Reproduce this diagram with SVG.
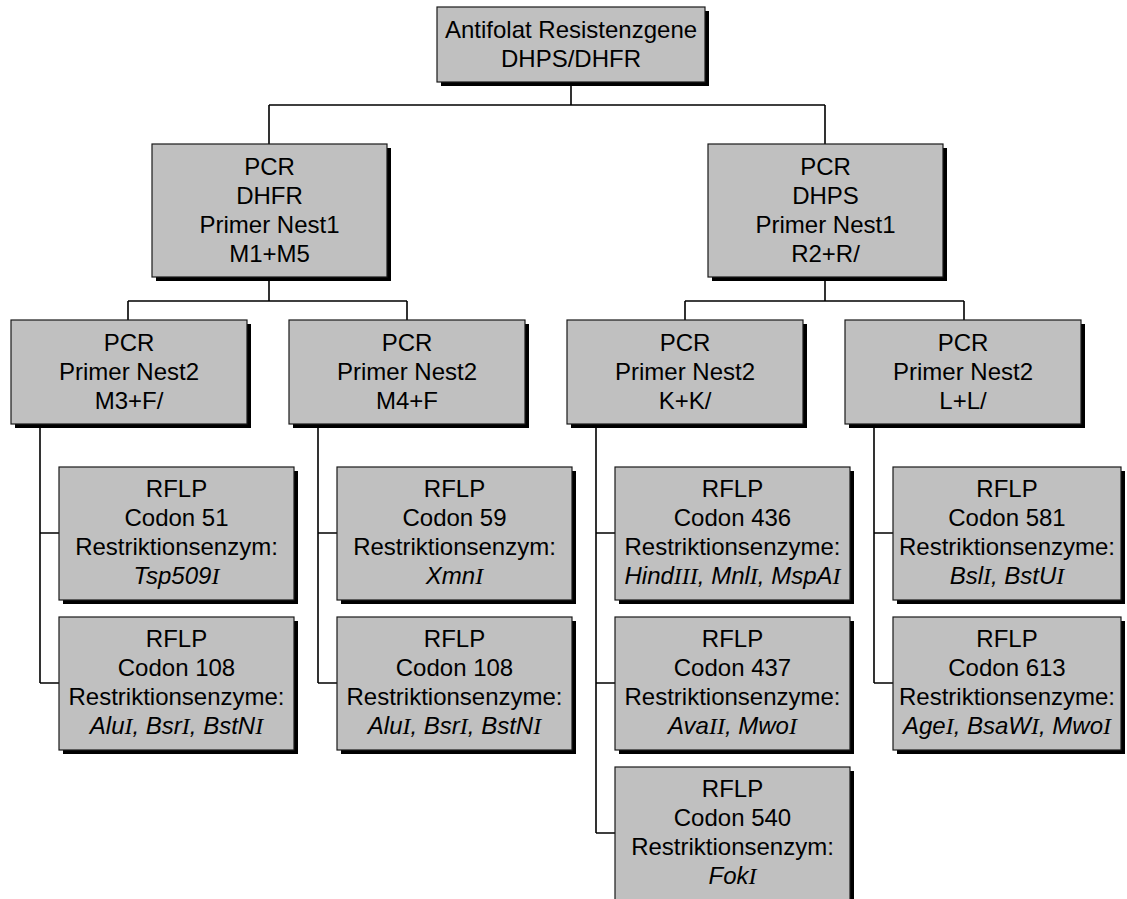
<svg xmlns="http://www.w3.org/2000/svg" width="1127" height="899" viewBox="0 0 1127 899">
<style>
.shadow{fill:#000}
.box{fill:#c0c0c0;stroke:#1a1a1a;stroke-width:1.2}
.t{font-family:"Liberation Sans",Arial,sans-serif;font-size:24px;fill:#000;text-anchor:middle}
.i{font-style:italic}
.r{font-family:"Liberation Serif","Times New Roman",serif;font-style:italic}
.conn{fill:none;stroke:#000;stroke-width:1.6}
</style>
<rect width="1127" height="899" fill="#fff"/>
<g id="connectors" class="conn">
<path d="M571 82V105M269 105H825M269 105V144M825 105V144"/>
<path d="M269 277V301M128 301H407M128 301V320M407 301V320"/>
<path d="M825 277V301M685 301H964M685 301V320M964 301V320"/>
<path d="M40 424V683M40 533H59M40 683H59"/>
<path d="M318 424V683M318 533H337M318 683H337"/>
<path d="M596 424V833M596 533H615M596 683H615M596 833H615"/>
<path d="M874 424V683M874 533H893M874 683H893"/>
</g>
<g id="root">
<rect class="shadow" x="441" y="11" width="268" height="75"/>
<rect class="box" x="437" y="7" width="268" height="75"/>
<text class="t" x="571" y="38">Antifolat Resistenzgene</text>
<text class="t" x="571" y="67">DHPS/DHFR</text>
</g>
<g id="pcr-dhfr">
<rect class="shadow" x="156" y="148" width="235" height="133"/>
<rect class="box" x="152" y="144" width="235" height="133"/>
<text class="t" x="269.5" y="175">PCR</text>
<text class="t" x="269.5" y="204">DHFR</text>
<text class="t" x="269.5" y="233">Primer Nest1</text>
<text class="t" x="269.5" y="262">M1+M5</text>
</g>
<g id="pcr-dhps">
<rect class="shadow" x="712" y="148" width="235" height="133"/>
<rect class="box" x="708" y="144" width="235" height="133"/>
<text class="t" x="825.5" y="175">PCR</text>
<text class="t" x="825.5" y="204">DHPS</text>
<text class="t" x="825.5" y="233">Primer Nest1</text>
<text class="t" x="825.5" y="262">R2+R/</text>
</g>
<g id="nest2-m3">
<rect class="shadow" x="15" y="324" width="236" height="104"/>
<rect class="box" x="11" y="320" width="236" height="104"/>
<text class="t" x="129" y="351">PCR</text>
<text class="t" x="129" y="380">Primer Nest2</text>
<text class="t" x="129" y="409">M3+F/</text>
</g>
<g id="nest2-m4">
<rect class="shadow" x="293" y="324" width="236" height="104"/>
<rect class="box" x="289" y="320" width="236" height="104"/>
<text class="t" x="407" y="351">PCR</text>
<text class="t" x="407" y="380">Primer Nest2</text>
<text class="t" x="407" y="409">M4+F</text>
</g>
<g id="nest2-k">
<rect class="shadow" x="571" y="324" width="236" height="104"/>
<rect class="box" x="567" y="320" width="236" height="104"/>
<text class="t" x="685" y="351">PCR</text>
<text class="t" x="685" y="380">Primer Nest2</text>
<text class="t" x="685" y="409">K+K/</text>
</g>
<g id="nest2-l">
<rect class="shadow" x="849" y="324" width="236" height="104"/>
<rect class="box" x="845" y="320" width="236" height="104"/>
<text class="t" x="963" y="351">PCR</text>
<text class="t" x="963" y="380">Primer Nest2</text>
<text class="t" x="963" y="409">L+L/</text>
</g>
<g id="rflp-51">
<rect class="shadow" x="63" y="471" width="235" height="133"/>
<rect class="box" x="59" y="467" width="235" height="133"/>
<text class="t" x="176.5" y="497">RFLP</text>
<text class="t" x="176.5" y="526">Codon 51</text>
<text class="t" x="176.5" y="555">Restriktionsenzym:</text>
<text class="t i" x="176.5" y="584">Tsp509<tspan class="r">I</tspan></text>
</g>
<g id="rflp-108a">
<rect class="shadow" x="63" y="621" width="235" height="133"/>
<rect class="box" x="59" y="617" width="235" height="133"/>
<text class="t" x="176.5" y="647">RFLP</text>
<text class="t" x="176.5" y="676">Codon 108</text>
<text class="t" x="176.5" y="705">Restriktionsenzyme:</text>
<text class="t i" x="176.5" y="734">Alu<tspan class="r">I</tspan>, Bsr<tspan class="r">I</tspan>, BstN<tspan class="r">I</tspan></text>
</g>
<g id="rflp-59">
<rect class="shadow" x="341" y="471" width="235" height="133"/>
<rect class="box" x="337" y="467" width="235" height="133"/>
<text class="t" x="454.5" y="497">RFLP</text>
<text class="t" x="454.5" y="526">Codon 59</text>
<text class="t" x="454.5" y="555">Restriktionsenzym:</text>
<text class="t i" x="454.5" y="584">Xmn<tspan class="r">I</tspan></text>
</g>
<g id="rflp-108b">
<rect class="shadow" x="341" y="621" width="235" height="133"/>
<rect class="box" x="337" y="617" width="235" height="133"/>
<text class="t" x="454.5" y="647">RFLP</text>
<text class="t" x="454.5" y="676">Codon 108</text>
<text class="t" x="454.5" y="705">Restriktionsenzyme:</text>
<text class="t i" x="454.5" y="734">Alu<tspan class="r">I</tspan>, Bsr<tspan class="r">I</tspan>, BstN<tspan class="r">I</tspan></text>
</g>
<g id="rflp-436">
<rect class="shadow" x="619" y="471" width="235" height="133"/>
<rect class="box" x="615" y="467" width="235" height="133"/>
<text class="t" x="732.5" y="497">RFLP</text>
<text class="t" x="732.5" y="526">Codon 436</text>
<text class="t" x="732.5" y="555">Restriktionsenzyme:</text>
<text class="t i" x="732.5" y="584">Hind<tspan class="r">III</tspan>, Mnl<tspan class="r">I</tspan>, MspA<tspan class="r">I</tspan></text>
</g>
<g id="rflp-437">
<rect class="shadow" x="619" y="621" width="235" height="133"/>
<rect class="box" x="615" y="617" width="235" height="133"/>
<text class="t" x="732.5" y="647">RFLP</text>
<text class="t" x="732.5" y="676">Codon 437</text>
<text class="t" x="732.5" y="705">Restriktionsenzyme:</text>
<text class="t i" x="732.5" y="734">Ava<tspan class="r">II</tspan>, Mwo<tspan class="r">I</tspan></text>
</g>
<g id="rflp-540">
<rect class="shadow" x="619" y="771" width="235" height="133"/>
<rect class="box" x="615" y="767" width="235" height="133"/>
<text class="t" x="732.5" y="797">RFLP</text>
<text class="t" x="732.5" y="826">Codon 540</text>
<text class="t" x="732.5" y="855">Restriktionsenzym:</text>
<text class="t i" x="732.5" y="884">Fok<tspan class="r">I</tspan></text>
</g>
<g id="rflp-581">
<rect class="shadow" x="897" y="471" width="228" height="133"/>
<rect class="box" x="893" y="467" width="228" height="133"/>
<text class="t" x="1007" y="497">RFLP</text>
<text class="t" x="1007" y="526">Codon 581</text>
<text class="t" x="1007" y="555">Restriktionsenzyme:</text>
<text class="t i" x="1007" y="584">Bsl<tspan class="r">I</tspan>, BstU<tspan class="r">I</tspan></text>
</g>
<g id="rflp-613">
<rect class="shadow" x="897" y="621" width="228" height="133"/>
<rect class="box" x="893" y="617" width="228" height="133"/>
<text class="t" x="1007" y="647">RFLP</text>
<text class="t" x="1007" y="676">Codon 613</text>
<text class="t" x="1007" y="705">Restriktionsenzyme:</text>
<text class="t i" x="1007" y="734">Age<tspan class="r">I</tspan>, BsaW<tspan class="r">I</tspan>, Mwo<tspan class="r">I</tspan></text>
</g>
</svg>
